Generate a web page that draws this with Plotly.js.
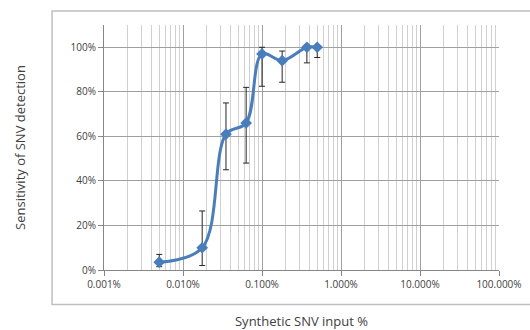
<!DOCTYPE html>
<html>
<head>
<meta charset="utf-8">
<script src="https://cdn.plot.ly/plotly-3.0.1.min.js"></script>
<style>html,body{margin:0;padding:0;background:#fff;}#chart{width:530px;height:330px;}</style>
</head>
<body>
<div id="chart"></div>
<script>
// Data (x in percent, y as fraction)
var inputPct = [0.005, 0.0175, 0.035, 0.063, 0.1, 0.18, 0.37, 0.5];
var sensitivity = [0.035, 0.10, 0.61, 0.66, 0.97, 0.94, 1.00, 1.00];
var errPlus = [0.035, 0.165, 0.14, 0.16, 0.03, 0.043, 0.0, 0.0];
var errMinus = [0.02, 0.08, 0.16, 0.18, 0.145, 0.097, 0.07, 0.046];
var xTickVals = [0.001, 0.01, 0.1, 1, 10, 100];
var xTickText = ["0.001%", "0.010%", "0.100%", "1.000%", "10.000%", "100.000%"];
var yTickVals = [0, 0.2, 0.4, 0.6, 0.8, 1.0];
var yTickText = ["0%", "20%", "40%", "60%", "80%", "100%"];

var minorVals = [];
for (var d = -3; d < 2; d++) {
  for (var m = 2; m <= 9; m++) minorVals.push(m * Math.pow(10, d));
}

var trace = {
  x: inputPct, y: sensitivity, type: 'scatter', mode: 'lines+markers',
  line: {color: '#4a7ebb', width: 3, shape: 'spline', smoothing: 1},
  marker: {symbol: 'diamond', size: 9, color: '#4a7ebb'},
  error_y: {type: 'data', symmetric: false, array: errPlus, arrayminus: errMinus,
            color: '#262626', thickness: 1, width: 3},
  cliponaxis: false
};

var layout = {
  width: 530, height: 330,
  margin: {l: 104, r: 30.5, t: 25, b: 59.5},
  paper_bgcolor: '#fff', plot_bgcolor: '#fff',
  showlegend: false,
  font: {family: 'Open Sans, sans-serif', color: '#404040'},
  xaxis: {
    type: 'log', range: [-3, 2],
    tickvals: xTickVals, ticktext: xTickText,
    tickfont: {size: 10, color: '#404040'},
    showgrid: true, gridcolor: '#a0a0a0', gridwidth: 1,
    minor: {tickvals: minorVals, showgrid: true, gridcolor: '#d0d0d0', gridwidth: 1, ticks: ''},
    showline: true, linecolor: '#868686', linewidth: 1,
    ticks: 'outside', ticklen: 5, tickcolor: '#868686',
    zeroline: false,
    title: {text: 'Synthetic SNV input %', font: {size: 13, color: '#404040'}, standoff: 27}
  },
  yaxis: {
    range: [0, 1.1],
    tickvals: yTickVals, ticktext: yTickText,
    tickfont: {size: 10, color: '#404040'},
    showgrid: true, gridcolor: '#a0a0a0', gridwidth: 1,
    showline: true, linecolor: '#868686', linewidth: 1,
    ticks: 'outside', ticklen: 5, tickcolor: '#868686',
    zeroline: false,
    title: {text: 'Sensitivity of SNV detection', font: {size: 13, color: '#404040'}, standoff: 42}
  },
  shapes: [{
    type: 'rect', xref: 'paper', yref: 'paper',
    x0: -0.1315, x1: 1.09, y0: -0.1405, y1: 1.057,
    line: {color: '#bfbfbf', width: 1.5}, fillcolor: 'rgba(0,0,0,0)', layer: 'below'
  }]
};

Plotly.newPlot('chart', [trace], layout, {displayModeBar: false, staticPlot: true});
</script>
</body>
</html>
